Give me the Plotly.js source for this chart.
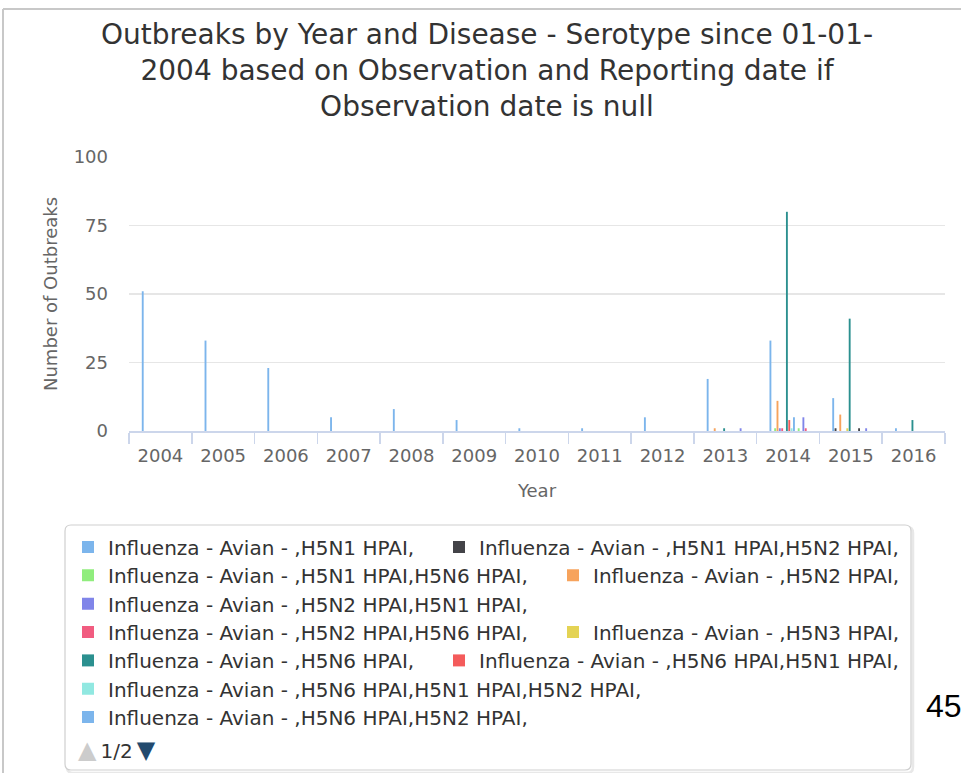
<!DOCTYPE html>
<html>
<head>
<meta charset="utf-8">
<script src="https://cdn.plot.ly/plotly-3.0.1.min.js"></script>
<style>
html,body{margin:0;padding:0;background:#ffffff;}
#chart{width:961px;height:773px;}
</style>
</head>
<body>
<div id="chart"></div>
<script>
// ---------------- data ----------------
const years = ['2004','2005','2006','2007','2008','2009','2010','2011','2012','2013','2014','2015','2016'];

const seriesNames = [
  'Influenza - Avian - ,H5N1 HPAI,',
  'Influenza - Avian - ,H5N1 HPAI,H5N2 HPAI,',
  'Influenza - Avian - ,H5N1 HPAI,H5N6 HPAI,',
  'Influenza - Avian - ,H5N2 HPAI,',
  'Influenza - Avian - ,H5N2 HPAI,H5N1 HPAI,',
  'Influenza - Avian - ,H5N2 HPAI,H5N6 HPAI,',
  'Influenza - Avian - ,H5N3 HPAI,',
  'Influenza - Avian - ,H5N6 HPAI,',
  'Influenza - Avian - ,H5N6 HPAI,H5N1 HPAI,',
  'Influenza - Avian - ,H5N6 HPAI,H5N1 HPAI,H5N2 HPAI,',
  'Influenza - Avian - ,H5N6 HPAI,H5N2 HPAI,',
  'Influenza - Avian - ,H5N6 HPAI,H5N8 HPAI,',
  'Influenza - Avian - ,H5N8 HPAI,',
  'Influenza - Avian - ,H5N8 HPAI,H5N1 HPAI,',
  'Influenza - Avian - ,H5N8 HPAI,H5N2 HPAI,',
  'Influenza - Avian - ,H5N8 HPAI,H5N6 HPAI,'
];

const seriesColors = ['#7cb5ec','#434348','#90ed7d','#f7a35c','#8085e9','#f15c80','#e4d354','#2b908f','#f45b5b','#91e8e1',
                      '#7cb5ec','#434348','#90ed7d','#f7a35c','#8085e9','#f15c80'];

//                 2004 05 06 07 08 09 10 11 12 13 14 15 16
const h5n1       = [51, 33, 23, 5, 8, 4, 1, 1, 5, 19, 33, 12, 1];
const h5n1h5n2   = [0, 0, 0, 0, 0, 0, 0, 0, 0, 0, 0, 1, 0];
const h5n1h5n6   = [0, 0, 0, 0, 0, 0, 0, 0, 0, 0, 1, 0, 0];
const h5n2       = [0, 0, 0, 0, 0, 0, 0, 0, 0, 1, 11, 6, 0];
const h5n2h5n1   = [0, 0, 0, 0, 0, 0, 0, 0, 0, 0, 1, 0, 0];
const h5n2h5n6   = [0, 0, 0, 0, 0, 0, 0, 0, 0, 0, 1, 0, 0];
const h5n3       = [0, 0, 0, 0, 0, 0, 0, 0, 0, 0, 0, 1, 0];
const h5n6       = [0, 0, 0, 0, 0, 0, 0, 0, 0, 1, 80, 41, 4];
const h5n6h5n1   = [0, 0, 0, 0, 0, 0, 0, 0, 0, 0, 4, 0, 0];
const h5n6h5n1h5n2 = [0, 0, 0, 0, 0, 0, 0, 0, 0, 0, 1, 0, 0];
const h5n6h5n2   = [0, 0, 0, 0, 0, 0, 0, 0, 0, 0, 5, 0, 0];
const page2a     = [0, 0, 0, 0, 0, 0, 0, 0, 0, 0, 0, 1, 0];
const page2b     = [0, 0, 0, 0, 0, 0, 0, 0, 0, 0, 1, 0, 0];
const page2c     = [0, 0, 0, 0, 0, 0, 0, 0, 0, 0, 0, 0, 0];
const page2d     = [0, 0, 0, 0, 0, 0, 0, 0, 0, 1, 5, 1, 0];
const page2e     = [0, 0, 0, 0, 0, 0, 0, 0, 0, 0, 1, 0, 0];

const seriesValues = [h5n1, h5n1h5n2, h5n1h5n6, h5n2, h5n2h5n1, h5n2h5n6, h5n3, h5n6, h5n6h5n1,
                      h5n6h5n1h5n2, h5n6h5n2, page2a, page2b, page2c, page2d, page2e];

const yTicks = [0, 25, 50, 75, 100];

// legend page 1 layout (rows of series indices)
const legendRows = [[0,1],[2,3],[4],[5,6],[7,8],[9],[10]];

// ---------------- layout helpers ----------------
const W = 961, H = 773;
const L = 129, R = 945, T = 157, B = 431;
const PW = R - L, PH = B - T;
const px = x => (x - L) / PW;
const py = y => (B - y) / PH;

const FONT = 'DejaVu Sans, Verdana, sans-serif';
const LEGEND_SIZE = 20;
const ITEM_DISTANCE = 20;

// measure legend text so that entries are spaced like the reference (text width + item distance)
const measureCtx = document.createElement('canvas').getContext('2d');
measureCtx.font = LEGEND_SIZE + 'px "DejaVu Sans"';
const textWidth = s => measureCtx.measureText(s).width;

function legendKey(r){ return r === 0 ? 'legend' : 'legend' + (r + 1); }
const rowOf = {};
legendRows.forEach((row, r) => row.forEach(i => { rowOf[i] = r; }));

const traces = seriesValues.map((vals, i) => ({
  type: 'bar',
  x: years,
  y: vals,
  name: seriesNames[i],
  marker: {color: seriesColors[i], line: {width: 0}},
  showlegend: rowOf[i] !== undefined,
  legend: rowOf[i] !== undefined ? legendKey(rowOf[i]) : 'legend',
  legendwidth: Math.round(textWidth(seriesNames[i]) + ITEM_DISTANCE),
  hoverinfo: 'skip'
}));

function roundRect(x0, y0, x1, y1, r){
  return 'M' + px(x0 + r) + ',' + py(y0) +
    ' L' + px(x1 - r) + ',' + py(y0) +
    ' Q' + px(x1) + ',' + py(y0) + ' ' + px(x1) + ',' + py(y0 + r) +
    ' L' + px(x1) + ',' + py(y1 - r) +
    ' Q' + px(x1) + ',' + py(y1) + ' ' + px(x1 - r) + ',' + py(y1) +
    ' L' + px(x0 + r) + ',' + py(y1) +
    ' Q' + px(x0) + ',' + py(y1) + ' ' + px(x0) + ',' + py(y1 - r) +
    ' L' + px(x0) + ',' + py(y0 + r) +
    ' Q' + px(x0) + ',' + py(y0) + ' ' + px(x0 + r) + ',' + py(y0) + ' Z';
}

const layout = {
  width: W, height: H,
  margin: {l: L, r: W - R, t: T, b: H - B, autoexpand: false},
  paper_bgcolor: '#ffffff',
  plot_bgcolor: '#ffffff',
  font: {family: FONT, color: '#333333'},
  barmode: 'group',
  bargap: 0.4,
  bargroupgap: 0.2,
  title: {
    text: 'Outbreaks by Year and Disease - Serotype since 01-01-<br>2004 based on Observation and Reporting date if<br>Observation date is null',
    font: {family: FONT, size: 28, color: '#333333'},
    x: 487 / W, xref: 'container', xanchor: 'center',
    y: 1 - 43.5 / H, yref: 'container', yanchor: 'middle'
  },
  xaxis: {
    type: 'category',
    range: [-0.5, years.length - 0.5],
    showline: true, linecolor: '#ccd6eb', linewidth: 1.5,
    ticks: 'outside', tickson: 'boundaries', ticklen: 11, tickcolor: '#ccd6eb', tickwidth: 1.5,
    ticklabelstandoff: 8,
    showgrid: false, zeroline: false,
    tickfont: {family: FONT, size: 18, color: '#666666'},
    title: {text: 'Year', font: {family: FONT, size: 18, color: '#666666'}, standoff: 19},
    fixedrange: true
  },
  yaxis: {
    range: [0, 100],
    tickmode: 'array', tickvals: yTicks, ticktext: yTicks.map(String),
    showgrid: true, gridcolor: '#e6e6e6', gridwidth: 1.5,
    zeroline: false, showline: false, ticks: '',
    ticklabelstandoff: 20,
    tickfont: {family: FONT, size: 18, color: '#666666'},
    title: {text: 'Number of Outbreaks', font: {family: FONT, size: 18, color: '#666666'}, standoff: 11},
    fixedrange: true
  },
  shapes: [
    // outer container frame
    {type: 'line', xref: 'paper', yref: 'paper', x0: px(3), x1: px(3), y0: py(9), y1: py(H + 5),
     line: {color: '#c8c8c8', width: 2}, layer: 'below'},
    {type: 'line', xref: 'paper', yref: 'paper', x0: px(3), x1: px(W + 5), y0: py(9), y1: py(9),
     line: {color: '#c8c8c8', width: 2}, layer: 'below'},
    // legend box shadow
    {type: 'path', xref: 'paper', yref: 'paper', layer: 'below',
     path: roundRect(67, 527, 913, 773, 6), fillcolor: 'rgba(0,0,0,0)', line: {color: '#e8e8e8', width: 2.5}},
    // legend box
    {type: 'path', xref: 'paper', yref: 'paper', layer: 'below',
     path: roundRect(65, 525, 911, 770, 6), fillcolor: '#ffffff', line: {color: '#cfcfcf', width: 1.2}}
  ],
  annotations: [
    {xref: 'paper', yref: 'paper', x: px(76), y: py(750), xanchor: 'left', yanchor: 'middle', showarrow: false,
     text: '<span style="color:#cccccc;font-size:24px">▲</span>\u20091/2\u2009<span style="color:#234a6e;font-size:24px">▼</span>',
     font: {family: FONT, size: 20, color: '#333333'}},
    {xref: 'paper', yref: 'paper', x: px(924), y: py(706), xanchor: 'left', yanchor: 'middle', showarrow: false,
     text: '45', font: {family: 'Liberation Sans, Arial, sans-serif', size: 32, color: '#000000'}}
  ]
};

const rowY0 = 547, rowStep = 28.35;
legendRows.forEach((row, r) => {
  layout[legendKey(r)] = {
    orientation: 'h',
    xref: 'paper', yref: 'paper',
    x: px(68), xanchor: 'left',
    y: py(rowY0 + r * rowStep), yanchor: 'middle',
    bgcolor: 'rgba(0,0,0,0)', borderwidth: 0,
    font: {family: FONT, size: LEGEND_SIZE, color: '#333333'},
    traceorder: 'normal',
    itemclick: false, itemdoubleclick: false
  };
});

Plotly.newPlot('chart', traces, layout, {displayModeBar: false, staticPlot: true});
</script>
</body>
</html>
